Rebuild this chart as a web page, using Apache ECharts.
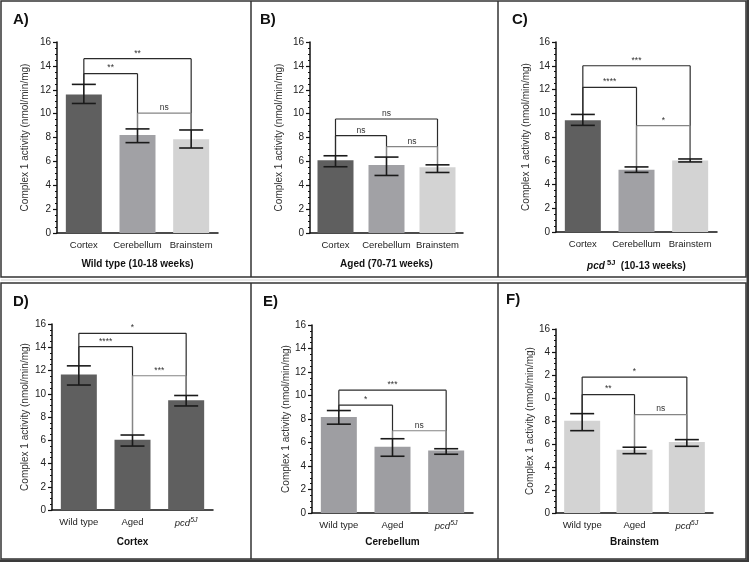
<!DOCTYPE html>
<html><head><meta charset="utf-8">
<script src="https://cdn.jsdelivr.net/npm/echarts@6/dist/echarts.min.js"></script>
<style>html,body{margin:0;padding:0;background:#fff}#c{width:749px;height:562px}</style>
</head><body><div id="c"></div>
<script>
// ---------- data ----------
const regionCats = ['Cortex', 'Cerebellum', 'Brainstem'];
const groupCats = ['Wild type', 'Aged', 'pcd5J'];
const yTicks = ['0', '2', '4', '6', '8', '10', '12', '14', '16'];
const yTicksF = ['0', '2', '4', '6', '8', '0', '2', '4', '16'];

const meanA = [11.6, 8.2, 7.85];
const loA = [10.85, 7.57, 7.12];
const hiA = [12.45, 8.72, 8.63];
const brA = [[0, 2, 14.6, '**'], [0, 1, 13.35, '**'], [1, 2, 10.05, 'ns']];

const meanB = [6.1, 5.7, 5.5];
const loB = [5.55, 4.82, 5.07];
const hiB = [6.47, 6.36, 5.71];
const brB = [[0, 2, 9.55, 'ns'], [0, 1, 8.15, 'ns'], [1, 2, 7.23, 'ns']];

const meanC = [9.42, 5.25, 6.02];
const loC = [8.98, 5.02, 5.9];
const hiC = [9.9, 5.48, 6.15];
const brC = [[0, 2, 14.0, '***'], [0, 1, 12.18, '****'], [1, 2, 8.95, '*']];

const meanD = [11.65, 6.05, 9.45];
const loD = [10.75, 5.5, 8.95];
const hiD = [12.4, 6.45, 9.85];
const brD = [[0, 2, 15.2, '*'], [0, 1, 14.05, '****'], [1, 2, 11.55, '***']];

const meanE = [8.18, 5.63, 5.32];
const loE = [7.56, 4.83, 5.0];
const hiE = [8.72, 6.32, 5.47];
const brE = [[0, 2, 10.45, '***'], [0, 1, 9.18, '*'], [1, 2, 7.0, 'ns']];

const meanF = [8.03, 5.5, 6.17];
const loF = [7.16, 5.16, 5.8];
const hiF = [8.64, 5.72, 6.38];
const brF = [[0, 2, 11.82, '*'], [0, 1, 10.3, '**'], [1, 2, 8.56, 'ns']];

const yTitle = 'Complex 1 activity (nmol/min/mg)';

// ---------- styling / layout ----------
const FONT = 'Liberation Sans, Arial, sans-serif';
const cDark = '#5f5f5f', cMid = '#a1a1a5', cLight = '#d3d3d3';
const panels = [
  {lab: 'A)', lx: 13, ly: 12, cats: regionCats, mean: meanA, lo: loA, hi: hiA, br: brA, ticks: yTicks,
   colors: [cDark, cMid, cLight], grid: {left: 57, top: 42, width: 161, height: 191},
   title: 'Wild type (10-18 weeks)', tGap: 26, yGap: 27},
  {lab: 'B)', lx: 260, ly: 12, cats: regionCats, mean: meanB, lo: loB, hi: hiB, br: brB, ticks: yTicks,
   colors: [cDark, cMid, cLight], grid: {left: 310, top: 42, width: 153, height: 191},
   title: 'Aged (70-71 weeks)', tGap: 26, yGap: 26},
  {lab: 'C)', lx: 512, ly: 12, cats: regionCats, mean: meanC, lo: loC, hi: hiC, br: brC, ticks: yTicks,
   colors: [cDark, cMid, cLight], grid: {left: 556, top: 42, width: 161, height: 190},
   title: '{i|pcd}{s| 5J}{b|  (10-13 weeks)}', tGap: 27, yGap: 25},
  {lab: 'D)', lx: 13, ly: 294, cats: groupCats, mean: meanD, lo: loD, hi: hiD, br: brD, ticks: yTicks,
   colors: [cDark, cDark, cDark], grid: {left: 52, top: 324, width: 161, height: 186},
   title: 'Cortex', tGap: 27, yGap: 22},
  {lab: 'E)', lx: 263, ly: 294, cats: groupCats, mean: meanE, lo: loE, hi: hiE, br: brE, ticks: yTicks,
   colors: ['#9e9ea2', '#9e9ea2', '#9e9ea2'], grid: {left: 312, top: 325, width: 161, height: 188},
   title: 'Cerebellum', tGap: 24, yGap: 18},
  {lab: 'F)', lx: 506, ly: 292, cats: groupCats, mean: meanF, lo: loF, hi: hiF, br: brF, ticks: yTicksF,
   colors: [cLight, cLight, cLight], grid: {left: 556, top: 329, width: 157, height: 184},
   title: 'Brainstem', tGap: 24, yGap: 20}
];

function errRender(params, api) {
  const i = api.value(0), lo = api.value(1), hi = api.value(2);
  const pLo = api.coord([i, lo]), pHi = api.coord([i, hi]);
  const x = pLo[0], hw = 12;
  const style = {stroke: '#1a1a1a', lineWidth: 1.6};
  return {type: 'group', children: [
    {type: 'line', shape: {x1: x, y1: pLo[1], x2: x, y2: pHi[1]}, style},
    {type: 'line', shape: {x1: x - hw, y1: pLo[1], x2: x + hw, y2: pLo[1]}, style},
    {type: 'line', shape: {x1: x - hw, y1: pHi[1], x2: x + hw, y2: pHi[1]}, style}
  ]};
}

function bracketRender(br, hi) {
  return function (params, api) {
    const k = params.dataIndex;
    const a = api.value(0), b = api.value(1), h = api.value(2);
    const pa = api.coord([a, h]), pb = api.coord([b, h]);
    const pa0 = api.coord([a, hi[a]]), pb0 = api.coord([b, hi[b]]);
    const col = k === 2 ? '#858585' : '#2b2b2b';
    const style = {stroke: col, lineWidth: 1.2};
    return {type: 'group', children: [
      {type: 'line', shape: {x1: pa[0], y1: pa[1], x2: pb[0], y2: pb[1]}, style},
      {type: 'line', shape: {x1: pa[0], y1: pa[1], x2: pa0[0], y2: pa0[1]}, style},
      {type: 'line', shape: {x1: pb[0], y1: pb[1], x2: pb0[0], y2: pb0[1]}, style},
      {type: 'text', x: (pa[0] + pb[0]) / 2, y: pa[1] - 1,
       style: {text: br[k][3], fontSize: 8.5, fontFamily: FONT, fill: '#333', align: 'center', verticalAlign: 'bottom'}}
    ]};
  };
}

const grids = [], xAxes = [], yAxes = [], series = [], graphics = [];
panels.forEach((p, n) => {
  grids.push(Object.assign({}, p.grid));
  xAxes.push({
    type: 'category', gridIndex: n, data: p.cats,
    axisLine: {lineStyle: {color: '#111', width: 1.5}},
    axisTick: {alignWithLabel: true, length: 3, lineStyle: {color: '#111', width: 1.2}},
    axisLabel: {fontSize: 9.5, fontFamily: FONT, color: '#222', margin: 7, interval: 0,
      formatter: v => v === 'pcd5J' ? '{i|pcd}{s|5J}' : v,
      rich: {i: {fontStyle: 'italic', fontSize: 9.5, fontFamily: FONT, color: '#222'},
             s: {fontStyle: 'italic', fontSize: 7, fontFamily: FONT, color: '#222', verticalAlign: 'top', padding: [0, 0, 6, 0]}}},
    name: p.title, nameLocation: 'middle', nameGap: p.tGap,
    nameTextStyle: {fontSize: 10, fontWeight: 'bold', fontFamily: FONT, color: '#111',
      rich: {i: {fontStyle: 'italic', fontWeight: 'bold', fontSize: 10, fontFamily: FONT, color: '#111'},
             s: {fontWeight: 'bold', fontSize: 7.5, fontFamily: FONT, color: '#111', padding: [0, 0, 7, 0]},
             b: {fontWeight: 'bold', fontSize: 10, fontFamily: FONT, color: '#111'}}}
  });
  const ticks = p.ticks;
  yAxes.push({
    type: 'value', gridIndex: n, min: 0, max: 16, interval: 2,
    axisLine: {show: true, lineStyle: {color: '#111', width: 1.5}},
    axisTick: {show: true, length: 4, lineStyle: {color: '#111', width: 1.2}},
    minorTick: {show: true, splitNumber: 4, length: 2, lineStyle: {color: '#111', width: 1}},
    splitLine: {show: false},
    axisLabel: {fontSize: 10, fontFamily: FONT, color: '#222', margin: 6,
      formatter: v => ticks[Math.round(v / 2)]},
    name: yTitle, nameLocation: 'middle', nameRotate: 90, nameGap: p.yGap,
    nameTextStyle: {fontSize: 10, fontFamily: FONT, color: '#333'}
  });
  series.push({
    type: 'bar', xAxisIndex: n, yAxisIndex: n, barWidth: 36, z: 2,
    data: p.mean.map((v, i) => ({value: v, itemStyle: {color: p.colors[i]}}))
  });
  series.push({
    type: 'custom', xAxisIndex: n, yAxisIndex: n, z: 4, renderItem: errRender,
    encode: {x: 0, y: [1, 2]},
    data: p.mean.map((v, i) => [i, p.lo[i], p.hi[i]])
  });
  series.push({
    type: 'custom', xAxisIndex: n, yAxisIndex: n, z: 3, renderItem: bracketRender(p.br, p.hi),
    encode: {x: 0, y: 2},
    data: p.br.map(b => [b[0], b[1], b[2]])
  });
  graphics.push({type: 'text', left: p.lx, top: p.ly,
    style: {text: p.lab, fontSize: 15, fontWeight: 'bold', fontFamily: FONT, fill: '#111'}});
});

// panel frames
const frame = {stroke: '#333', lineWidth: 1.5, fill: null};
[[1, 277], [283, 559]].forEach(([y0, y1]) => {
  graphics.push({type: 'rect', shape: {x: 1, y: y0, width: 745, height: y1 - y0}, style: frame, silent: true});
  graphics.push({type: 'line', shape: {x1: 251, y1: y0, x2: 251, y2: y1}, style: frame, silent: true});
  graphics.push({type: 'line', shape: {x1: 498, y1: y0, x2: 498, y2: y1}, style: frame, silent: true});
});
graphics.push({type: 'line', shape: {x1: 1, y1: 280, x2: 746, y2: 280}, style: {stroke: '#d0d0d0', lineWidth: 1}, silent: true});
graphics.push({type: 'rect', shape: {x: 746.5, y: 0, width: 3, height: 562}, style: {fill: '#3a3a3a'}, silent: true});
graphics.push({type: 'rect', shape: {x: 0, y: 559.5, width: 749, height: 3}, style: {fill: '#3a3a3a'}, silent: true});

const chart = echarts.init(document.getElementById('c'), null, {renderer: 'canvas'});
chart.setOption({
  animation: false,
  backgroundColor: '#fff',
  grid: grids, xAxis: xAxes, yAxis: yAxes, series: series, graphic: graphics
});
</script></body></html>
